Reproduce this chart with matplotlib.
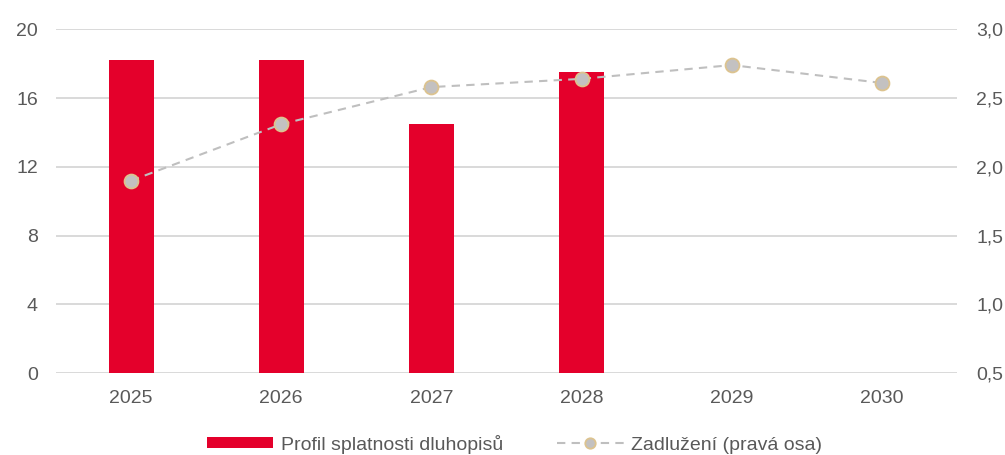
import matplotlib
matplotlib.use("Agg")
import matplotlib.pyplot as plt
from matplotlib.ticker import FuncFormatter

plt.rcParams['font.family'] = ['Liberation Sans', 'DejaVu Sans']

years = ["2025", "2026", "2027", "2028", "2029", "2030"]
maturity = [18.2, 18.2, 14.5, 17.5, 0, 0]
leverage = [1.90, 2.31, 2.58, 2.64, 2.74, 2.61]
left_ticks = [0, 4, 8, 12, 16, 20]
right_ticks = [0.5, 1.0, 1.5, 2.0, 2.5, 3.0]

RED = "#E4002B"
GRID = "#D9D9D9"
TXT = "#595959"

fig = plt.figure(figsize=(10.05, 4.55), dpi=100)
ax = fig.add_axes([0.0557, 0.1796, 0.8965, 0.756])
x = list(range(len(years)))
bars = ax.bar(x, maturity, width=0.3, color=RED, zorder=2, label="Profil splatnosti dluhopisů")
ax.set_xlim(-0.5, len(years) - 0.5)
ax.set_ylim(0, 20)
ax.set_yticks(left_ticks)
ax.yaxis.grid(True, color=GRID, linewidth=1.4, zorder=0)
ax.set_axisbelow(True)
for s in ax.spines.values():
    s.set_visible(False)
ax.set_xticks(x)
ax.set_xticklabels(years)
ax.tick_params(axis='both', length=0, labelsize=14, colors=TXT)
ax.tick_params(axis='y', pad=13)
ax.tick_params(axis='x', pad=12)

ax2 = ax.twinx()
ax2.set_ylim(0.5, 3.0)
ax2.set_yticks(right_ticks)
ax2.yaxis.set_major_formatter(FuncFormatter(lambda v, p: f"{v:.1f}".replace(".", ",")))
for s in ax2.spines.values():
    s.set_visible(False)
ax2.tick_params(axis='y', length=0, labelsize=14, colors=TXT, pad=14)
line, = ax2.plot(x, leverage, linestyle=(0, (4, 3)), color="#BFBFBF", linewidth=1.5,
                 marker='o', markersize=10, markerfacecolor="#C3C1C1",
                 markeredgecolor="#DCC38F", markeredgewidth=1.3, zorder=3,
                 label="Zadlužení (pravá osa)")

leg = fig.legend([bars, line], ["Profil splatnosti dluhopisů", "Zadlužení (pravá osa)"],
                 loc='center', bbox_to_anchor=(0.512, 0.024), ncol=2, frameon=False,
                 fontsize=14, handlelength=3.4, handletextpad=0.4, columnspacing=2.8,
                 handleheight=0.5, markerscale=0.75)
for t in leg.get_texts():
    t.set_color(TXT)

fig.savefig("out.png", dpi=100)
